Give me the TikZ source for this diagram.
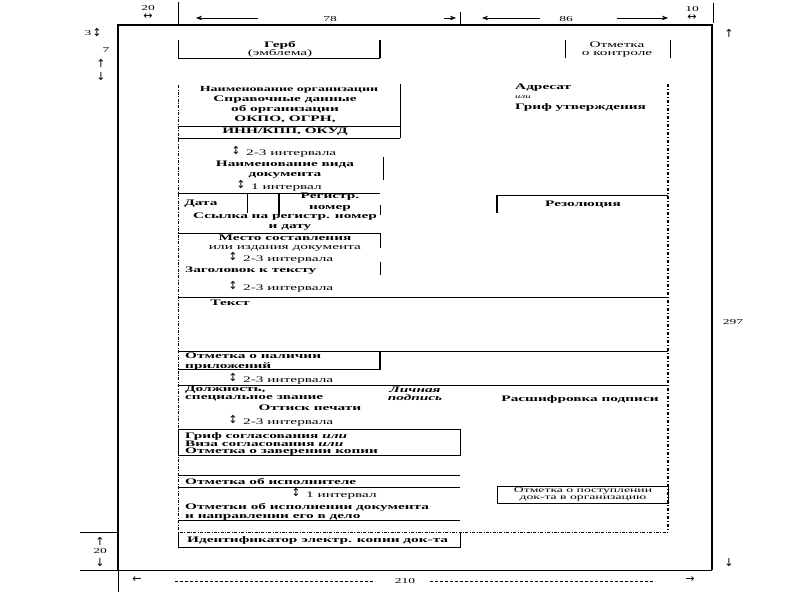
\documentclass[tikz,border=0pt]{standalone}
\usepackage{fontspec}
\setmainfont{Liberation Serif}[FakeStretch=1.8]
\newfontfamily\arrfont{DejaVu Sans}
\usetikzlibrary{arrows.meta}

\tikzset{
  lbl/.style={font=\fontsize{8.5}{9}\selectfont\bfseries, inner sep=0pt},
  plainlbl/.style={font=\fontsize{8.5}{9}\selectfont, inner sep=0pt},
  dimlbl/.style={font=\fontsize{7.5}{8}\selectfont, inner sep=0pt},
  arrlbl/.style={font=\arrfont\fontsize{11}{11}\selectfont, inner sep=0pt},
  pageedge/.style={line width=2.4pt},
  formline/.style={line width=0.8pt},
  heavystub/.style={line width=2.2pt},
  dimline/.style={line width=0.5pt},
  fieldedge/.style={line width=0.6pt, dash pattern=on 3pt off 1.5pt on 0.8pt off 1.5pt},
  fieldedgeR/.style={line width=1.6pt, dash pattern=on 3pt off 2pt on 1pt off 2pt}
}
% interval mark: arrow glyph + text
\newcommand{\intmark}[4]{%
  \node[arrlbl] (#1a) at (#2,#3) {↕};
  \node[plainlbl, anchor=west] (#1) at (#2+10,#3+3) {#4};}

\begin{document}
\begin{tikzpicture}[x=1pt, y=-1pt]
\useasboundingbox (0,0) rectangle (794,595);

% ===== PAGE AND MARGINS =====
\draw[pageedge] (118,570) -- (118,25) -- (712,25) -- (712,570);
\draw[formline] (80,570) -- (712,570);
\draw[dimline] (118,570) -- (118,592);
\draw[dimline] (80,532) -- (118,532);
\draw[dimline] (178,2) -- (178,25);
\draw[dimline] (460,12) -- (460,25);
\draw[dimline] (713,3) -- (713,23);

% top dimensions
\node[dimlbl] (m20) at (148,8) {20};
\node[arrlbl] (m20a) at (148,17) {↔};
\draw[dimline, -{Stealth[length=6pt]}] (258,18) -- (196,18);
\node[dimlbl] (w78) at (330,19) {78};
\draw[dimline, -{Stealth[length=6pt]}] (444,18) -- (456,18);
\draw[dimline, -{Stealth[length=6pt]}] (540,18) -- (482,18);
\node[dimlbl] (w86) at (566,19) {86};
\draw[dimline, -{Stealth[length=6pt]}] (617,18) -- (668,18);
\node[dimlbl] (m10) at (692,9) {10};
\node[arrlbl] (m10a) at (692,18) {↔};

% left dimensions
\node[dimlbl] (m3) at (88,33) {3};
\node[arrlbl] (m3a) at (97,33) {↕};
\node[dimlbl] (m7) at (106,50) {7};
\node[arrlbl] (m7u) at (101,63) {↑};
\node[arrlbl] (m7d) at (101,77) {↓};
\node[arrlbl] (b20u) at (100,541) {↑};
\node[dimlbl] (b20) at (100,551) {20};
\node[arrlbl] (b20d) at (100,562) {↓};

% right and bottom dimensions
\node[arrlbl] (h297u) at (729,33) {↑};
\node[dimlbl] (h297) at (733,322) {297};
\node[arrlbl] (h297d) at (729,562) {↓};
\node[arrlbl] (w210l) at (137,580) {←};
\node[dimlbl] (w210) at (405,581) {210};
\node[arrlbl] (w210r) at (690,580) {→};
\draw[dimline, densely dashed] (175,581) -- (375,581);
\draw[dimline, densely dashed] (430,581) -- (655,581);

% ===== DOCUMENT FIELD =====
\draw[fieldedge] (178,85) -- (178,532) -- (668,532);
\draw[fieldedgeR] (668,84) -- (668,532);

% emblem
\draw[formline] (178,40) -- (178,58) -- (380,58);
\draw[heavystub] (380,40) -- (380,58);
\node[lbl] (gerb) at (280,45) {Герб};
\node[plainlbl] (gerb2) at (280,53) {(эмблема)};

% control mark
\draw[formline] (565,40) -- (565,58);
\draw[formline] (670,40) -- (670,58);
\node[plainlbl] (ctrl) at (617,45) {Отметка};
\node[plainlbl] (ctrl2) at (617,54) {о контроле};

% organization
\draw[formline] (400,84) -- (400,138);
\draw[formline] (178,126) -- (400,126);
\draw[formline] (178,138) -- (400,138);
\node[lbl, font=\fontsize{7.8}{9}\selectfont\bfseries] (org1) at (289,90) {Наименование организации};
\node[lbl] (org2) at (285,100) {Справочные данные};
\node[lbl] (org3) at (285,109) {об организации};
\node[lbl] (org4) at (285,119) {ОКПО, ОГРН,};
\node[lbl] (org5) at (285,132) {ИНН/КПП, ОКУД};

% document kind
\intmark{int1}{236}{151}{2-3 интервала}
\node[lbl] (kind1) at (285,164) {Наименование вида};
\node[lbl] (kind2) at (285,175) {документа};
\draw[formline] (383,157) -- (383,180);
\intmark{int2}{241}{185}{1 интервал}

% date and number
\draw[formline] (178,193) -- (380,193);
\draw[formline] (247,193) -- (247,213);
\draw[heavystub] (279,193) -- (279,215);
\draw[formline] (380,205) -- (380,215);
\node[lbl] (date) at (201,204) {Дата};
\node[lbl] (regno1) at (330,197) {Регистр.};
\node[lbl] (regno2) at (330,208) {номер};
\node[lbl] (ref1) at (285,217) {Ссылка на регистр. номер};
\node[lbl] (ref2) at (290,227) {и дату};
\draw[formline] (178,233) -- (380,233);
\draw[formline] (380,233) -- (380,248);
\node[lbl] (place1) at (285,238) {Место составления};
\node[plainlbl] (place2) at (285,248) {или издания документа};

% heading
\intmark{int3}{233}{257}{2-3 интервала}
\node[lbl, anchor=west] (head) at (185,271) {Заголовок к тексту};
\draw[formline] (380,262) -- (380,275);
\intmark{int4}{233}{286}{2-3 интервала}

% text
\draw[formline] (178,297) -- (668,297);
\node[lbl] (txt) at (230,303) {Текст};
\draw[formline] (178,351) -- (668,351);

% appendix
\node[lbl, anchor=west] (app1) at (185,356) {Отметка о наличии};
\node[lbl, anchor=west] (app2) at (185,366) {приложений};
\draw[formline] (178,369) -- (380,369);
\draw[heavystub] (380,351) -- (380,370);
\intmark{int5}{233}{378}{2-3 интервала}

% signature
\draw[formline] (178,385) -- (668,385);
\node[lbl, anchor=west] (sig1) at (185,390) {Должность,};
\node[lbl, anchor=west] (sig2) at (185,398) {специальное звание};
\node[lbl, font=\fontsize{8.5}{9}\selectfont\bfseries\itshape] (sig3) at (415,390) {Личная};
\node[lbl, font=\fontsize{8.5}{9}\selectfont\bfseries\itshape] (sig4) at (415,398) {подпись};
\node[lbl] (sig5) at (580,399) {Расшифровка подписи};
\node[lbl] (seal) at (310,408) {Оттиск печати};
\intmark{int6}{233}{420}{2-3 интервала}

% approval
\draw[formline] (178,429) rectangle (460,455);
\node[lbl, anchor=west] (appr1) at (185,436) {Гриф согласования \textit{или}};
\node[lbl, anchor=west] (appr2) at (185,444) {Виза согласования \textit{или}};
\node[lbl, anchor=west] (appr3) at (185,452) {Отметка о заверении копии};

% executor
\draw[formline] (178,475) -- (460,475);
\node[lbl, anchor=west] (exec) at (185,481) {Отметка об исполнителе};
\draw[formline] (178,487) -- (460,487);
\intmark{int7}{296}{493}{1 интервал}
\node[lbl, anchor=west] (done1) at (185,507) {Отметки об исполнении документа};
\node[lbl, anchor=west] (done2) at (185,517) {и направлении его в дело};
\draw[formline] (178,520) -- (460,520);

% electronic copy
\draw[formline] (460,533) -- (460,547) -- (178,547) -- (178,533);
\node[lbl, anchor=west] (ecopy) at (187,540) {Идентификатор электр. копии док-та};

% ===== RIGHT COLUMN =====
\node[lbl, anchor=west] (addr1) at (515,88) {Адресат};
\node[plainlbl, anchor=west, font=\fontsize{6}{7}\selectfont\itshape] (addr2) at (515,97) {или};
\node[lbl, anchor=west] (addr3) at (515,107) {Гриф утверждения};

\draw[formline] (497,195) -- (668,195);
\draw[heavystub] (497,195) -- (497,213);
\node[lbl] (resol) at (583,204) {Резолюция};

\draw[formline] (497,486) rectangle (668,503);
\node[plainlbl, font=\fontsize{7.6}{8}\selectfont] (recv1) at (583,491) {Отметка о поступлении};
\node[plainlbl, font=\fontsize{7.6}{8}\selectfont] (recv2) at (583,499) {док-та в организацию};

\end{tikzpicture}
\end{document}
